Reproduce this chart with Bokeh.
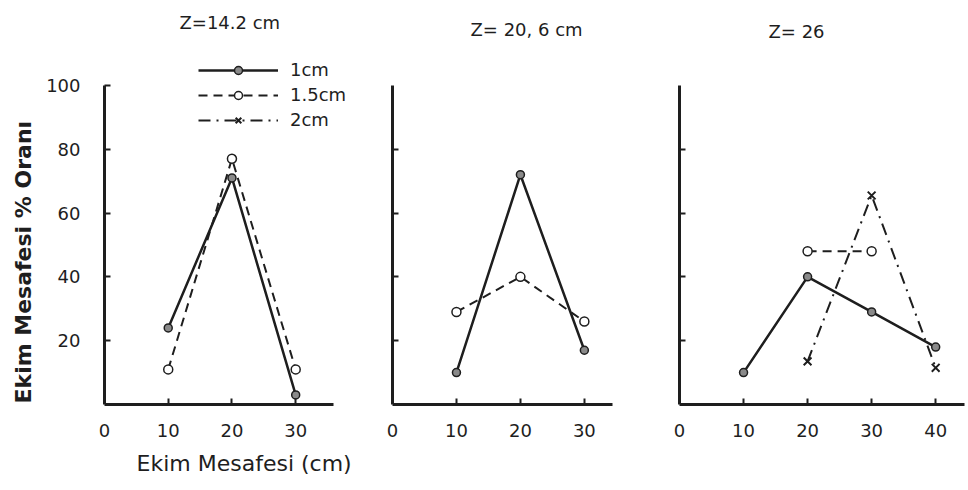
from bokeh.plotting import figure
from bokeh.layouts import row
from bokeh.models import Range1d, FixedTicker, Legend, LegendItem, Title
from bokeh.embed import file_html
from bokeh.resources import INLINE

nan = float("nan")

# ---------------- data ----------------
series_names = ["1cm", "1.5cm", "2cm"]
panel_titles = ["Z=14.2 cm", "Z= 20, 6 cm", "Z= 26"]
y_title = "Ekim Mesafesi % Oranı"
x_title = "Ekim Mesafesi (cm)"
y_ticks = [20, 40, 60, 80, 100]
x_labels_1 = [0, 10, 20, 30]
x_labels_2 = [0, 10, 20, 30]
x_labels_3 = [0, 10, 20, 30, 40]

# Panel 1: Z = 14.2 cm (no 2cm series measured)
p1_x_1cm = [10, 20, 30]
p1_y_1cm = [24, 71, 3]
p1_x_15cm = [10, 20, 30]
p1_y_15cm = [11, 77, 11]
p1_x_2cm = [10, 20, 30]
p1_y_2cm = [nan, nan, nan]

# Panel 2: Z = 20,6 cm
p2_x_1cm = [10, 20, 30]
p2_y_1cm = [10, 72, 17]
p2_x_15cm = [10, 20, 30]
p2_y_15cm = [29, 40, 26]

# Panel 3: Z = 26
p3_x_1cm = [10, 20, 30, 40]
p3_y_1cm = [10, 40, 29, 18]
p3_x_15cm = [20, 30]
p3_y_15cm = [48, 48]
p3_x_2cm = [20, 30, 40]
p3_y_2cm = [13.5, 65.5, 11.5]

# ---------------- style ----------------
FONT = "DejaVu Sans"
INK = "#1e1e1e"
TICK_FS = "18px"
H = 490
TOP = 40
BOTTOM = 86
Y_END = 100 * (H - TOP - BOTTOM) / 320.0


def make_fig(width, mb_left, mb_right, xr, xlabels, title, title_offset, title_standoff,
             labelled_y):
    p = figure(width=width, height=H, x_range=Range1d(*xr), y_range=Range1d(0, Y_END),
               output_backend="svg", toolbar_location=None,
               min_border_left=mb_left, min_border_right=mb_right,
               min_border_top=TOP, min_border_bottom=BOTTOM,
               title=title)
    p.grid.visible = False
    p.outline_line_color = None
    p.background_fill_color = "white"
    p.border_fill_color = "white"
    p.title.align = "left"
    p.title.offset = title_offset
    p.title.standoff = title_standoff
    p.title.text_font = FONT
    p.title.text_font_size = "18px"
    p.title.text_font_style = "normal"
    p.title.text_color = INK
    for ax in (p.xaxis[0], p.yaxis[0]):
        ax.axis_line_width = 3
        ax.axis_line_color = INK
        ax.major_tick_line_width = 2
        ax.major_tick_line_color = INK
        ax.major_tick_in = 6
        ax.major_tick_out = 0
        ax.minor_tick_line_width = 2
        ax.minor_tick_line_color = INK
        ax.minor_tick_in = 6
        ax.minor_tick_out = 0
        ax.major_label_text_font = FONT
        ax.major_label_text_font_size = TICK_FS
        ax.major_label_text_color = INK
    # x: labels on major ticks (no marks), marks on minor ticks
    p.xaxis.ticker = FixedTicker(ticks=xlabels, minor_ticks=xlabels[1:])
    p.xaxis.major_tick_line_color = None
    p.xaxis.major_label_standoff = 19
    p.yaxis.bounds = (0, 100)
    if labelled_y:
        p.yaxis.ticker = FixedTicker(ticks=y_ticks, minor_ticks=[])
        p.yaxis.major_label_standoff = 24
    else:
        p.yaxis.ticker = FixedTicker(ticks=[], minor_ticks=y_ticks[:-1])
    return p


def draw(p, x1, y1, x15, y15, x2=None, y2=None):
    r1l = p.line(x1, y1, line_width=2.5, line_color=INK)
    r1m = p.scatter(x1, y1, marker="circle", size=8, fill_color="#8a8a8a",
                    line_color=INK, line_width=1.5)
    r15l = p.line(x15, y15, line_width=2, line_color=INK, line_dash="9 6")
    r15m = p.scatter(x15, y15, marker="circle", size=9, fill_color="white",
                     line_color=INK, line_width=1.5)
    out = [[r1l, r1m], [r15l, r15m]]
    if x2 is not None:
        r2l = p.line(x2, y2, line_width=2, line_color=INK, line_dash="12 6 2 6")
        r2m = p.scatter(x2, y2, marker="x", size=11, line_color=INK, line_width=2)
        out.append([r2l, r2m])
    return out


# Panel 1
f1 = make_fig(360, 103, 10, (0, 38.6), x_labels_1, panel_titles[0], 75, 18, True)
f1.xaxis.bounds = (0, 35.9)
f1.add_layout(Title(text=y_title, align="left", offset=1, text_font=FONT,
                    text_font_size="22px", text_font_style="bold",
                    text_color=INK, standoff=16), "left")
f1.add_layout(Title(text=x_title, align="left", offset=32, text_font=FONT,
                    text_font_size="22px", text_font_style="normal",
                    text_color=INK, standoff=18), "below")
rs1 = draw(f1, p1_x_1cm, p1_y_1cm, p1_x_15cm, p1_y_15cm, p1_x_2cm, p1_y_2cm)
legend = Legend(items=[LegendItem(label=n, renderers=r) for n, r in zip(series_names, rs1)],
                location=(94, 274), glyph_width=80, glyph_height=20, spacing=4,
                padding=0, margin=0, label_standoff=12, border_line_color=None,
                background_fill_alpha=0, label_text_font=FONT,
                label_text_font_size="18px", label_text_color=INK)
f1.add_layout(legend)

# Panel 2
f2 = make_fig(280, 32, 28, (0, 34.4), x_labels_2, panel_titles[1], 78, 4, False)
draw(f2, p2_x_1cm, p2_y_1cm, p2_x_15cm, p2_y_15cm)

# Panel 3
f3 = make_fig(328, 39, 4, (0, 44.5), x_labels_3, panel_titles[2], 89, 0, False)
draw(f3, p3_x_1cm, p3_y_1cm, p3_x_15cm, p3_y_15cm, p3_x_2cm, p3_y_2cm)

layout = row(f1, f2, f3)
open("out.html", "w").write(file_html(layout, INLINE))
